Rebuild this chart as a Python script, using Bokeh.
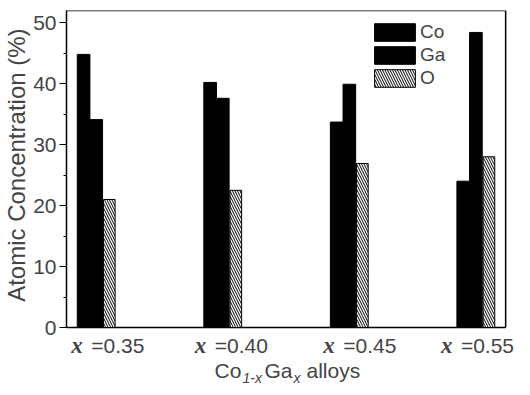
from bokeh.plotting import figure
from bokeh.models import (Range1d, SingleIntervalTicker, Label, Legend, LegendItem,
                          ColumnDataSource)
from bokeh.transform import dodge
from bokeh.embed import file_html
from bokeh.resources import INLINE

# ---- data ----
groups = [1, 2, 3, 4]
x_values = ["0.35", "0.40", "0.45", "0.55"]
co = [44.8, 40.2, 33.7, 24.0]
ga = [34.1, 37.6, 39.9, 48.4]
o = [21.0, 22.5, 26.9, 28.0]
series_names = ["Co", "Ga", "O"]
y_title = "Atomic Concentration (%)"

# ---- layout constants ----
label_shift = [-25, -28, -26, -35]   # px shift of each group label
SANS = "Liberation Sans"
SERIF = "Liberation Serif"
W, H = 514, 386
BL, BT = 59, 10
BOX_H = 317                  # height (px) of the boxed plotting area
X0, X1 = 0.765, 4.235        # x extent of the box
Y1 = 52                      # top of the box
PX_Y = BOX_H / Y1            # px per y unit
PX_X = (W - BL - 9) / (X1 - X0)
below = H - BT - BOX_H       # px strip under the box for texts

p = figure(width=W, height=H, output_backend="svg", toolbar_location=None,
           x_range=Range1d(X0, X1 + 9 / PX_X),
           y_range=Range1d(-below / PX_Y, Y1),
           x_axis_location=None,
           min_border_left=BL, min_border_right=0, min_border_top=BT,
           min_border_bottom=0)
p.grid.visible = False
p.outline_line_color = None
p.background_fill_color = "white"
p.border_fill_color = "white"

# box lines (bottom, top, right)
p.segment(x0=[X0, X0, X1], y0=[0, Y1, 0], x1=[X1, X1, X1], y1=[0, Y1, Y1],
          line_color="black", line_width=1.5)

src = ColumnDataSource(dict(g=groups, co=co, ga=ga, o=o))
r_co = p.vbar(x=dodge("g", -0.1, range=p.x_range), top="co", width=0.1,
              source=src, fill_color="black", line_color="black")
r_ga = p.vbar(x=dodge("g", 0.0, range=p.x_range), top="ga", width=0.1,
              source=src, fill_color="black", line_color="black")
r_o = p.vbar(x=dodge("g", 0.103, range=p.x_range), top="o", width=0.092,
             source=src, fill_color="white", line_color="black", line_width=1,
             hatch_pattern="\\", hatch_color="black", hatch_scale=5,
             hatch_weight=1)

# y axis (leading no-break spaces lift the title to the boxed area's centre)
yax = p.yaxis[0]
yax.bounds = (0, Y1)
yax.ticker = SingleIntervalTicker(interval=10, num_minor_ticks=2)
yax.axis_label = "\u00a0" * 10 + y_title
yax.axis_label_text_font = SANS
yax.axis_label_text_font_style = "normal"
yax.axis_label_text_font_size = "24px"
yax.axis_label_standoff = 0
yax.major_label_text_font = SANS
yax.major_label_text_font_size = "21px"
yax.major_label_standoff = 3
yax.major_tick_out = 7
yax.major_tick_in = 0
yax.minor_tick_out = 3
yax.minor_tick_in = 0
yax.axis_line_width = 1.5
yax.major_tick_line_width = 1.2

legend = Legend(items=[LegendItem(label=n, renderers=[r]) for n, r in
                       zip(series_names, [r_co, r_ga, r_o])],
                location=(303, 297), padding=0, margin=0, spacing=1,
                glyph_width=51, glyph_height=22, label_height=21,
                label_standoff=0, label_text_font=SANS,
                label_text_font_size="19px", border_line_alpha=0,
                background_fill_alpha=0)
p.add_layout(legend)

# category labels "x =0.35"
for g, xv, sh in zip(groups, x_values, label_shift):
    p.add_layout(Label(x=g, y=0, x_offset=sh, y_offset=-18, text="x",
                       text_font=SERIF, text_font_style="bold italic",
                       text_font_size="23px", text_baseline="middle",
                       text_align="left"))
    p.add_layout(Label(x=g, y=0, x_offset=sh + 20, y_offset=-18,
                       text="=" + xv, text_font=SANS, text_font_size="21px",
                       text_baseline="middle", text_align="left"))

# axis title Co(1-x)Ga(x) alloys (screen px from the frame's bottom-left)
title_parts = [("Co", 148, 16, "21px", "normal"),
               ("1-x", 176, 9, "14px", "italic"),
               ("Ga", 198, 16, "21px", "normal"),
               ("x", 227, 9, "14px", "italic"),
               ("alloys", 240, 16, "21px", "normal")]
for t, sx, sy, fs, st in title_parts:
    p.add_layout(Label(x=sx, y=sy, x_units="screen", y_units="screen", text=t,
                       text_font=SANS, text_font_size=fs, text_font_style=st,
                       text_baseline="middle", text_align="left"))

open("out.html", "w").write(file_html(p, INLINE))
